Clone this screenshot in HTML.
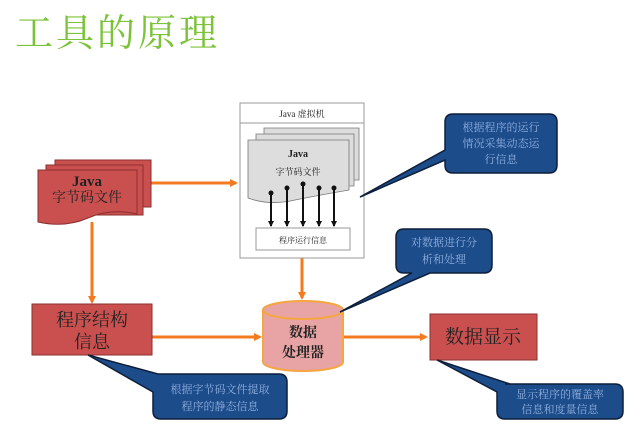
<!DOCTYPE html>
<html><head><meta charset="utf-8"><style>
body{margin:0;width:640px;height:432px;background:#fff;overflow:hidden;font-family:"Liberation Serif","Noto Serif CJK SC",serif}
svg text{font-family:"Liberation Serif","Noto Serif CJK SC",serif}
</style></head><body>
<svg width="640" height="432" viewBox="0 0 640 432" xmlns="http://www.w3.org/2000/svg">
<defs>
<marker id="oa" markerWidth="8" markerHeight="8" refX="6" refY="4" orient="auto" markerUnits="userSpaceOnUse"><path d="M0,0 L8,4 L0,8z" fill="#f47a20"/></marker>
<marker id="ba" markerWidth="6" markerHeight="6" refX="5" refY="3" orient="auto" markerUnits="userSpaceOnUse"><path d="M0,0 L6,3 L0,6z" fill="#111"/></marker>
</defs>
<text x="15" y="46" font-size="38" fill="#7cc33a" font-family="Noto Sans CJK SC,sans-serif" letter-spacing="3">工具的原理</text>

<g stroke="#f47a20" stroke-width="3" fill="none" marker-end="url(#oa)">
<line x1="151" y1="183" x2="236" y2="183"/>
<line x1="92" y1="222" x2="92" y2="302"/>
<line x1="152" y1="337" x2="260" y2="337"/>
<line x1="302" y1="258" x2="302" y2="298"/>
<line x1="343" y1="337" x2="426" y2="337"/>
</g>

<g fill="#c9504f" stroke="#8a2f2f" stroke-width="1">
<path d="M55,160 H151 V207 H55z"/>
<path d="M46,165 H143 V215 H46z"/>
<path d="M38,170 H137 V214 Q110,208 88,218 Q65,228 38,222z"/>
</g>
<text x="87" y="186" font-size="15" font-weight="bold" text-anchor="middle" fill="#222">Java</text>
<text x="87" y="202" font-size="14" text-anchor="middle" fill="#222">字节码文件</text>

<rect x="32" y="304" width="120" height="51" fill="#c9504f" stroke="#8a2f2f"/>
<text x="92" y="326" font-size="18" text-anchor="middle" fill="#222">程序结构</text>
<text x="92" y="348" font-size="18" text-anchor="middle" fill="#222">信息</text>

<rect x="240" y="103" width="124" height="155" fill="#fff" stroke="#999"/>
<line x1="240" y1="123" x2="364" y2="123" stroke="#999"/>
<text x="302" y="117" font-size="9" text-anchor="middle" fill="#222">Java 虚拟机</text>
<g fill="#ddd" stroke="#777" stroke-width="0.8">
<path d="M264,128 H359 V180 H264z"/>
<path d="M256,134 H354 V186 H256z"/>
<path d="M248,140 H349 V190 Q320,195 295,200 Q270,206 248,198z"/>
</g>
<text x="298" y="157" font-size="10" font-weight="bold" text-anchor="middle" fill="#222">Java</text>
<text x="298" y="175" font-size="9" text-anchor="middle" fill="#222">字节码文件</text>
<g stroke="#111" stroke-width="2" marker-end="url(#ba)">
<line x1="271" y1="193" x2="271" y2="226"/>
<line x1="287" y1="188" x2="287" y2="226"/>
<line x1="303" y1="184" x2="303" y2="226"/>
<line x1="319" y1="188" x2="319" y2="226"/>
<line x1="334" y1="188" x2="334" y2="226"/>
</g>
<g fill="#111"><circle cx="271" cy="193" r="2.5"/><circle cx="287" cy="188" r="2.5"/><circle cx="303" cy="184" r="2.5"/><circle cx="319" cy="188" r="2.5"/><circle cx="334" cy="188" r="2.5"/></g>
<rect x="256" y="228" width="94" height="22" fill="#fff" stroke="#999"/>
<text x="303" y="243" font-size="8" text-anchor="middle" fill="#222">程序运行信息</text>

<path d="M263,310 V362 A40,9 0 0 0 343,362 V310" fill="#e8a4a4" stroke="#f4a640" stroke-width="2"/>
<ellipse cx="303" cy="310" rx="40" ry="9" fill="#e8a4a4" stroke="#f4a640" stroke-width="2"/>
<text x="303" y="337" font-size="14" font-weight="bold" text-anchor="middle" fill="#222">数据</text>
<text x="303" y="357" font-size="14" font-weight="bold" text-anchor="middle" fill="#222">处理器</text>

<rect x="430" y="314" width="107" height="46" fill="#c9504f" stroke="#8a2f2f"/>
<text x="483" y="343" font-size="19" text-anchor="middle" fill="#222">数据显示</text>

<g fill="#1d4c8a" stroke="#0d1f3a" stroke-width="1.5">
<path d="M453,114 H549 Q557,114 557,122 V165 Q557,173 549,173 H453 Q445,173 445,165 V160 L360,197 L445,150 V122 Q445,114 453,114z"/>
<path d="M404,229 H484 Q492,229 492,237 V265 Q492,273 484,273 H430 L340,312 L412,273 H404 Q396,273 396,265 V237 Q396,229 404,229z"/>
<path d="M161,374 H279 Q287,374 287,382 V411 Q287,419 279,419 H161 Q153,419 153,411 V392 L88,355 L158,374z"/>
<path d="M505,384 H615 Q623,384 623,392 V411 Q623,419 615,419 H505 Q497,419 497,411 V392 L437,360 L510,384z"/>
</g>
<g font-size="11" fill="#8fb0e0" text-anchor="middle">
<text x="501" y="131">根据程序的运行</text>
<text x="501" y="147">情况采集动态运</text>
<text x="501" y="163">行信息</text>
<text x="444" y="246">对数据进行分</text>
<text x="444" y="263">析和处理</text>
<text x="220" y="393">根据字节码文件提取</text>
<text x="220" y="410">程序的静态信息</text>
<text x="560" y="398">显示程序的覆盖率</text>
<text x="560" y="413">信息和度量信息</text>
</g>
</svg>
</body></html>
